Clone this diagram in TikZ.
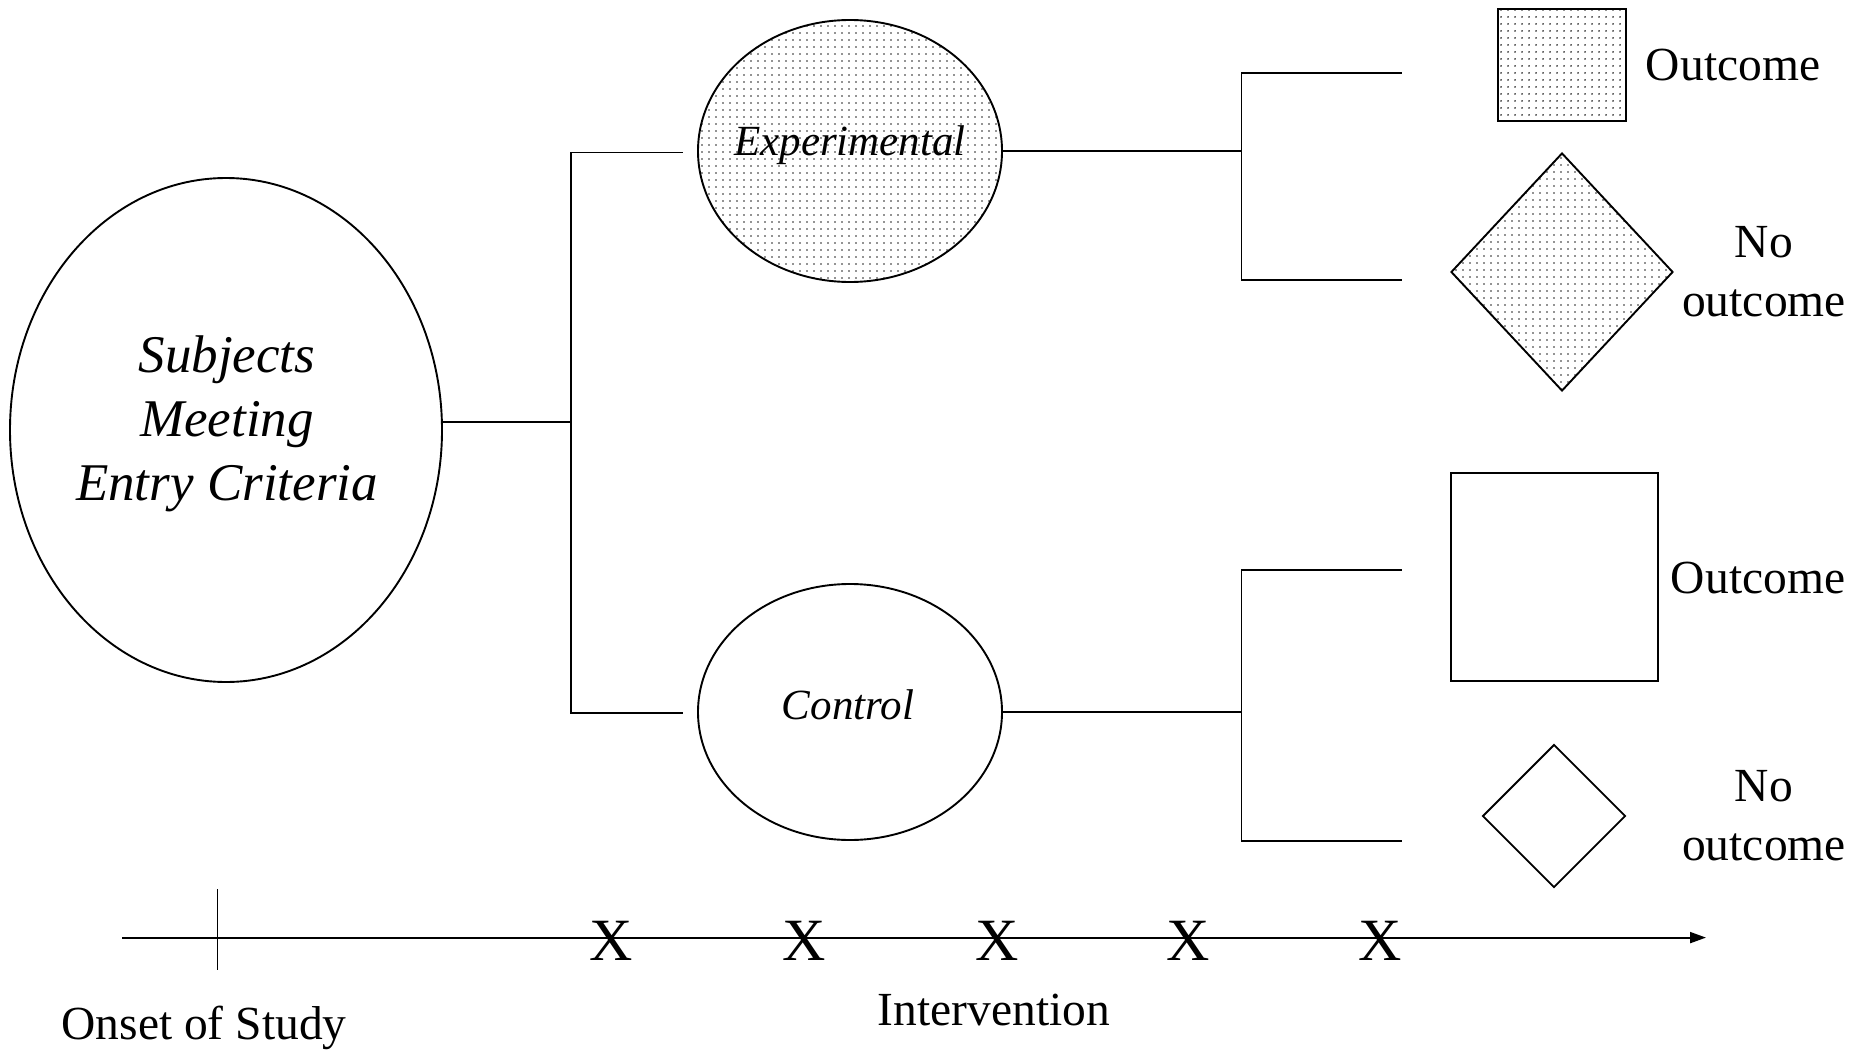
\documentclass[tikz,border=0pt]{standalone}
\usepackage{fontspec}
\setmainfont{Liberation Serif}
\usetikzlibrary{shapes.geometric,patterns.meta,arrows.meta}
\begin{document}
\begin{tikzpicture}[x=1pt,y=-1pt,
  ln/.style={line width=1.9pt, line cap=rect},
  dotfill/.style={pattern={Dots[distance=6.5pt,radius=1pt]},pattern color=black!85},
  ell/.style={ellipse, draw, line width=1.9pt, inner sep=0pt},
  dia/.style={diamond, draw, line width=1.9pt, inner sep=0pt},
  box/.style={rectangle, draw, line width=2.2pt, inner sep=0pt},
  bigtxt/.style={font=\fontsize{53}{64}\selectfont\itshape, align=center, inner sep=0pt},
  midtxt/.style={font=\fontsize{43}{50}\selectfont\itshape, inner sep=0pt},
  txt/.style={font=\fontsize{47.5}{59}\selectfont, align=center, inner sep=0pt},
  xmark/.style={font=\fontsize{60}{60}\selectfont, inner sep=0pt}
]
\useasboundingbox (0,0) rectangle (1854,1051);

% main ellipse
\node[ell, minimum width=432pt, minimum height=504pt] (main) at (226,430) {};
\node[bigtxt] (maint) at (227,424) {Subjects\\Meeting\\Entry Criteria};

% group ellipses
\node[ell, dotfill, minimum width=304pt, minimum height=262pt] (exp) at (850,151) {};
\node[midtxt] (expt) at (850,145) {Experimental};
\node[ell, minimum width=304pt, minimum height=256pt] (ctl) at (850,712) {};
\node[midtxt] (ctlt) at (848,705) {Control};

% left junction
\coordinate (jt) at (571,152.5);
\coordinate (jb) at (571,713);
\coordinate (ea) at (682,152.5);
\coordinate (ca) at (682,713);
\draw[ln] (main.2) -- (main.2 -| jt);
\draw[ln] (jt) -- (jb);
\draw[ln] (jt) -- (ea);
\draw[ln] (jb) -- (ca);

% right junctions
\coordinate (kt) at (1241.5,73.3);
\coordinate (kb) at (1241.5,280.2);
\coordinate (kte) at (1401,73.3);
\coordinate (kbe) at (1401,280.2);
\draw[ln] (exp.east) -- (exp.east -| kt);
\draw[ln] (kt) -- (kb);
\draw[ln] (kt) -- (kte);
\draw[ln] (kb) -- (kbe);

\coordinate (lt) at (1241.5,570);
\coordinate (lb) at (1241.5,840.7);
\coordinate (lte) at (1401,570);
\coordinate (lbe) at (1401,840.7);
\draw[ln] (ctl.east) -- (ctl.east -| lt);
\draw[ln] (lt) -- (lb);
\draw[ln] (lt) -- (lte);
\draw[ln] (lb) -- (lbe);

% outcome shapes
\node[box, dotfill, minimum width=128pt, minimum height=112pt] (eo) at (1562,65) {};
\node[dia, dotfill, minimum width=222pt, minimum height=238pt] (en) at (1562,272) {};
\node[box, minimum width=207pt, minimum height=208pt] (co) at (1554.5,577) {};
\node[dia, minimum width=143pt, minimum height=143pt] (cn) at (1554,816) {};

\node[txt] (eot) at (1733,65) {Outcome};
\node[txt] (ent) at (1764,272) {No\\outcome};
\node[txt] (cot) at (1758,578) {Outcome};
\node[txt] (cnt) at (1764,816) {No\\outcome};

% timeline
\coordinate (ts) at (122,937.6);
\coordinate (te) at (1706,937.6);
\draw[line width=2pt, -{Triangle[length=16pt,width=11pt]}] (ts) -- (te);
\coordinate (tk1) at (217.6,889);
\coordinate (tk2) at (217.6,969.6);
\draw[line width=1.5pt] (tk1) -- (tk2);

\foreach \i/\x in {1/611,2/804,3/997,4/1188,5/1380}
  \node[xmark] (x\i) at (\x,941) {X};

\node[txt] (onset) at (204,1028) {Onset of Study};
\node[txt] (interv) at (994,1010) {Intervention};
\end{tikzpicture}
\end{document}
